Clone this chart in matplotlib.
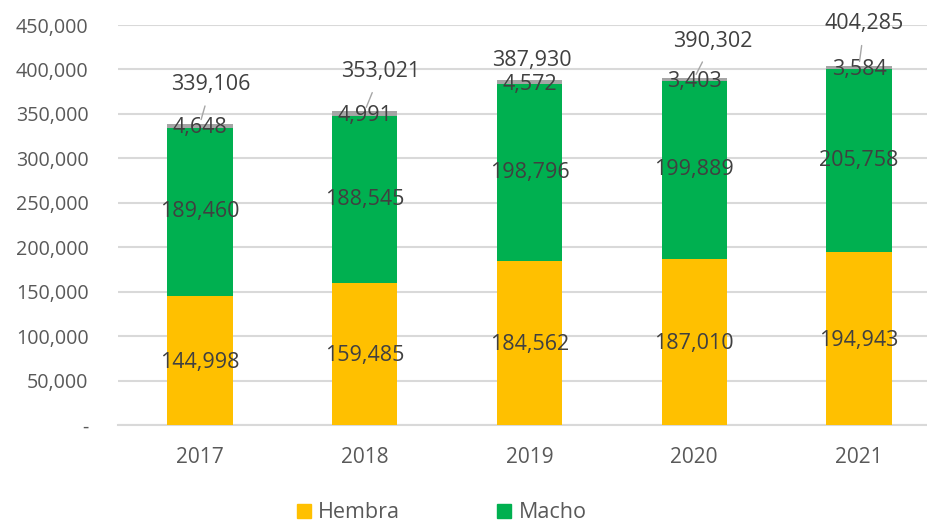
import matplotlib
matplotlib.use("Agg")
import matplotlib.pyplot as plt
from matplotlib.patches import Patch
from matplotlib.ticker import FuncFormatter
import numpy as np

# ---- data ----
years = ["2017", "2018", "2019", "2020", "2021"]
hembra = [144998, 159485, 184562, 187010, 194943]
macho = [189460, 188545, 198796, 199889, 205758]
otros = [4648, 4991, 4572, 3403, 3584]
series_names = ["Hembra", "Macho"]

# total label offsets (points) relative to bar top
total_offsets = [(8, 28), (11.5, 28.5), (1.5, 14.5), (13.5, 26.5), (4, 30)]
show_leader = [True, True, False, True, True]

c_hem = "#FFC000"
c_mac = "#00B050"
c_otr = "#A5A5A5"
lab_col = "#404040"
tick_col = "#595959"
grid_col = "#D9D9D9"

plt.rcParams["font.family"] = ["Open Sans", "DejaVu Sans"]

fig = plt.figure(figsize=(9.28, 5.27), dpi=100)
ax = fig.add_axes([117.6 / 928, 102 / 527, 823.75 / 928, 400 / 527])

x = np.arange(len(years))
hem = np.array(hembra)
mac = np.array(macho)
otr = np.array(otros)
tot = hem + mac + otr
w = 0.395

ax.bar(x, hem, w, color=c_hem, zorder=3)
ax.bar(x, mac, w, bottom=hem, color=c_mac, zorder=3)
ax.bar(x, otr, w, bottom=hem + mac, color=c_otr, zorder=3)

fs = 15.5
for i in range(len(years)):
    ax.text(x[i], hem[i] / 2 - 2000, f"{hem[i]:,}", ha="center", va="center",
            fontsize=fs, color=lab_col, zorder=5)
    ax.text(x[i], hem[i] + mac[i] / 2, f"{mac[i]:,}", ha="center", va="center",
            fontsize=fs, color=lab_col, zorder=5)
    ax.text(x[i], hem[i] + mac[i] + otr[i] / 2 - 2500, f"{otr[i]:,}", ha="center",
            va="center", fontsize=fs, color=lab_col, zorder=5)
    dx, dy = total_offsets[i]
    ap = dict(arrowstyle="-", color="#A6A6A6", lw=1.0, shrinkA=6, shrinkB=3) if show_leader[i] else None
    ax.annotate(f"{tot[i]:,}", xy=(x[i], tot[i]), xytext=(dx, dy),
                textcoords="offset points", ha="center", va="center",
                fontsize=fs, color=lab_col, arrowprops=ap, zorder=6,
                annotation_clip=False)

ax.set_ylim(0, 450000)
ax.set_yticks(np.arange(0, 450001, 50000))
ax.yaxis.set_major_formatter(FuncFormatter(lambda v, p: "-" if v == 0 else f"{int(v):,}"))
ax.set_xlim(-0.5, len(years) - 0.5)
ax.set_xticks(x)
ax.set_xticklabels(years)
ax.tick_params(axis="x", length=0, labelsize=15, colors=tick_col, pad=16)
ax.tick_params(axis="y", length=0, labelsize=14.2, colors=tick_col, pad=21)
ax.grid(axis="y", color=grid_col, lw=1.5, zorder=0)
for s in ["top", "right", "left"]:
    ax.spines[s].set_visible(False)
ax.spines["bottom"].set_color(grid_col)
ax.spines["bottom"].set_linewidth(1.5)

handles = [Patch(color=c_hem), Patch(color=c_mac)]
fig.legend(handles, series_names, loc="center", bbox_to_anchor=(441.5 / 928, 14 / 527),
           ncol=2, frameon=False, fontsize=15.5, handlelength=0.65, handleheight=0.65,
           handletextpad=0.35, columnspacing=4.5, labelcolor=tick_col,
           borderpad=0.1)

fig.savefig("out.png", dpi=100)
